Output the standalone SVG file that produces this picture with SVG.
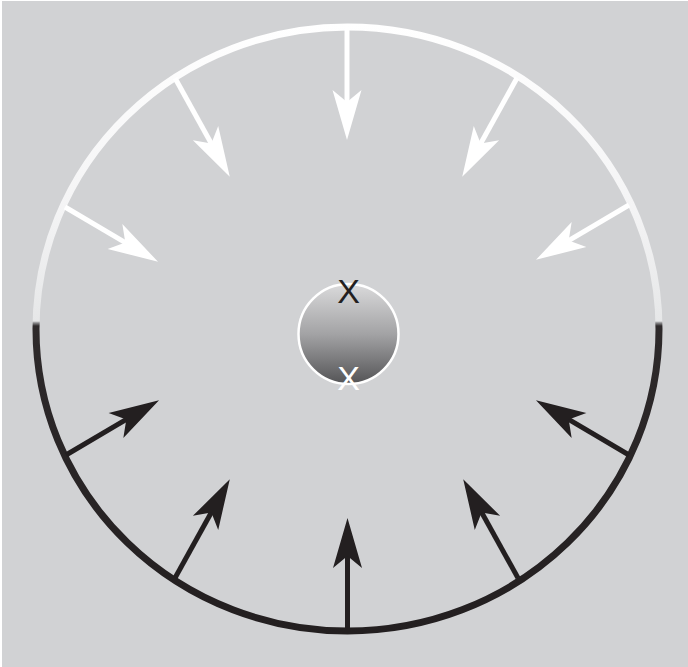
<svg xmlns="http://www.w3.org/2000/svg" width="688" height="667" viewBox="0 0 688 667">
  <style>
    .light { color: #ffffff; }
    .dark { color: #231f20; }
    .lbl { font-family: "Liberation Sans", Arial, sans-serif; font-size: 34px; text-anchor: middle; }
  </style>
  <defs>
    <linearGradient id="ringGrad" gradientUnits="userSpaceOnUse" x1="0" y1="24" x2="0" y2="634">
      <stop offset="0" stop-color="#ffffff"/>
      <stop offset="0.3" stop-color="#f4f4f5"/>
      <stop offset="0.487" stop-color="#e6e7e8"/>
      <stop offset="0.49" stop-color="#8c8c8e"/>
      <stop offset="0.495" stop-color="#2e2a2b"/>
      <stop offset="1" stop-color="#231f20"/>
    </linearGradient>
    <linearGradient id="ballGrad" x1="0" y1="0" x2="0" y2="1">
      <stop offset="0" stop-color="#dadadb"/>
      <stop offset="0.5" stop-color="#a3a3a5"/>
      <stop offset="1" stop-color="#545456"/>
    </linearGradient>
    <g id="arrow">
      <line x1="0" y1="0" x2="78" y2="0" stroke="currentColor" stroke-width="5"/>
      <polygon points="113,0 63,-14.5 75,0 63,14.5" fill="currentColor"/>
    </g>
    <g id="arrowShort">
      <line x1="0" y1="0" x2="73" y2="0" stroke="currentColor" stroke-width="5"/>
      <polygon points="108,0 58,-14.5 70,0 58,14.5" fill="currentColor"/>
    </g>
  </defs>

  <rect x="0" y="0" width="688" height="667" fill="#ffffff"/>
  <rect x="2" y="1" width="686" height="666" fill="#d1d2d4"/>

  <g id="ring">
    <ellipse cx="347.5" cy="329" rx="311.5" ry="302" fill="none" stroke="url(#ringGrad)" stroke-width="7"/>
  </g>

  <g id="arrows">
    <g id="arrow-top" class="light"><use href="#arrow" transform="translate(347,27) rotate(90)"/></g>
    <g id="arrow-ul1" class="light"><use href="#arrow" transform="translate(175,78) rotate(61)"/></g>
    <g id="arrow-ul2" class="light"><use href="#arrowShort" transform="translate(65,207) rotate(30.5)"/></g>
    <g id="arrow-ur1" class="light"><use href="#arrow" transform="translate(517,78) rotate(119)"/></g>
    <g id="arrow-ur2" class="light"><use href="#arrowShort" transform="translate(629,205) rotate(149.5)"/></g>
    <g id="arrow-ll2" class="dark"><use href="#arrowShort" transform="translate(66,455) rotate(-30.5)"/></g>
    <g id="arrow-ll1" class="dark"><use href="#arrow" transform="translate(175,578) rotate(-61)"/></g>
    <g id="arrow-bottom" class="dark"><use href="#arrow" transform="translate(347.5,631) rotate(-90)"/></g>
    <g id="arrow-lr1" class="dark"><use href="#arrow" transform="translate(518,578) rotate(-119)"/></g>
    <g id="arrow-lr2" class="dark"><use href="#arrowShort" transform="translate(629,455) rotate(-149.5)"/></g>
  </g>

  <g id="ball">
    <circle cx="348.5" cy="334" r="50" fill="url(#ballGrad)" stroke="#ffffff" stroke-width="2.5"/>
    <text class="lbl" x="348.5" y="303" fill="#231f20">X</text>
    <text class="lbl" x="348.5" y="390" fill="#ffffff">X</text>
  </g>
</svg>
